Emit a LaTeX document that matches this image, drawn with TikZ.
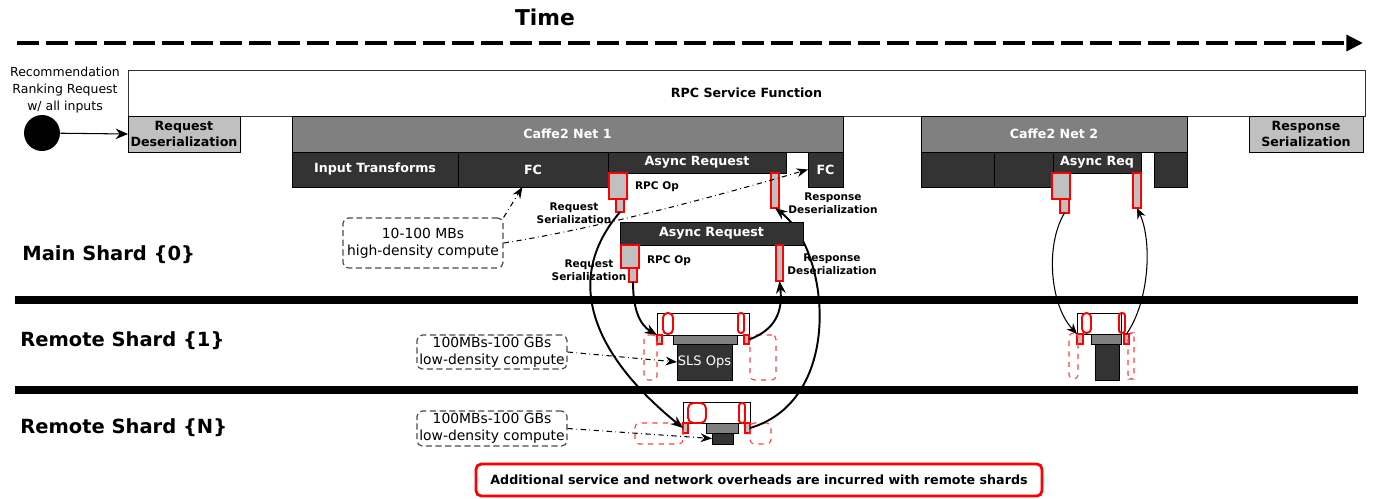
\documentclass[tikz,border=0pt]{standalone}
\usepackage{fontspec}
\setmainfont{DejaVu Sans}
\usetikzlibrary{arrows.meta,fit}

\definecolor{lgray}{HTML}{C0C0C0}
\definecolor{mgray}{HTML}{808080}
\definecolor{dgray}{HTML}{333333}

\tikzset{
  blk/.style={draw=black, line width=0.5pt, inner sep=0pt, outer sep=0pt},
  gbox/.style={blk, fill=lgray},
  nbox/.style={blk, fill=mgray},
  dbox/.style={blk, fill=dgray},
  btext/.style={font=\fontsize{7.2}{9.5}\selectfont\bfseries, align=center, inner sep=0pt},
  wtext/.style={btext, text=white},
  rpcop/.style={draw=red, fill=lgray, line width=0.7pt, inner sep=0pt, outer sep=0pt},
  ring/.style={draw=red, line width=1.1pt, rounded corners=1.5pt, inner sep=0pt},
  halo/.style={draw=red!75, dashed, line width=0.6pt, rounded corners=2.4pt, inner sep=0pt},
  memo/.style={draw=black!70, dash pattern=on 3.5pt off 2pt, line width=0.7pt, rounded corners=3pt, inner sep=0pt},
  mtext/.style={font=\fontsize{7.9}{9.6}\selectfont, align=center, inner sep=0pt},
  note/.style={font=\fontsize{6}{7.4}\selectfont\bfseries, align=center, inner sep=0pt},
  shard/.style={font=\fontsize{11.1}{13}\selectfont\bfseries, anchor=west, inner sep=0pt},
  hop/.style={line width=1.1pt, -{Stealth[length=7pt,width=5.5pt]}},
  hopthin/.style={line width=0.6pt, -{Stealth[length=6pt,width=5pt]}},
  hint/.style={dash dot, line width=0.6pt, -{Stealth[length=6.5pt,width=5pt]}},
}

\begin{document}
\begin{tikzpicture}[x=0.02cm, y=-0.02cm]
  \useasboundingbox (0,0) rectangle (1376,498);

  % time axis
  \node[font=\fontsize{12.4}{14}\selectfont\bfseries] (timelbl) at (545,17) {Time};
  \coordinate (tstart) at (17,43);
  \coordinate (tend) at (1363,43);
  \draw[line width=2.3pt, dash pattern=on 12.5pt off 4pt, -{Triangle[length=9.5pt,width=9pt]}] (tstart) -- (tend);

  % incoming request
  \node[align=center, font=\fontsize{7.1}{9.6}\selectfont] (reqtxt) at (65,90) {Recommendation\\Ranking Request\\w/ all inputs};
  \node[circle, fill=black, minimum size=0.72cm, inner sep=0pt] (src) at (42,133) {};
  \node[blk, fill=white, draw=black!80, fit={(128,70) (1365,116)}, label={[btext]center:RPC Service Function}] (rpcfn) {};
  \node[gbox, fit={(128,116) (240,152)}, label={[btext]center:Request\\Deserialization}] (reqdeser) {};
  \draw[line width=0.6pt, -{Stealth[length=7pt,width=6pt]}] (src) -- (reqdeser.west);

  % Caffe2 Net 1
  \node[nbox, fit={(292,116) (843,152)}, label={[wtext]center:Caffe2 Net 1}] (netone) {};
  \node[dbox, fit={(292,152) (458,187)}, label={[wtext]center:Input Transforms}] (intrans) {};
  \node[dbox, fit={(458,152) (608,187)}, label={[wtext]center:FC}] (fcone) {};
  \node[dbox, fit={(608,152) (786,173)}, label={[wtext]center:Async Request}] (asyncone) {};
  \node[dbox, fit={(808,152) (843,187)}, label={[wtext]center:FC}] (fctwo) {};
  \node[rpcop, fit={(609,173) (627,199)}] (opone) {};
  \node[rpcop, fit={(616,199) (624,212)}] (serone) {};
  \node[rpcop, fit={(771,173) (779,208)}] (desone) {};
  \node[note] (oplblone) at (657,187) {RPC Op};
  \node[note] (serlblone) at (574,213) {Request\\Serialization};
  \node[note] (deslblone) at (833,203) {Response\\Deserialization};

  % Caffe2 Net 2
  \node[nbox, fit={(921,116) (1187,152)}, label={[wtext]center:Caffe2 Net 2}] (nettwo) {};
  \node[dbox, fit={(921,152) (994,187)}] (opsa) {};
  \node[dbox, fit={(994,152) (1053,187)}] (opsb) {};
  \node[dbox, fit={(1053,152) (1141,173)}, label={[wtext]center:Async Req}] (asyncthree) {};
  \node[dbox, fit={(1154,152) (1187,187)}] (opsc) {};
  \node[rpcop, fit={(1052,173) (1070,199)}] (opthree) {};
  \node[rpcop, fit={(1060,199) (1069,213)}] (serthree) {};
  \node[rpcop, fit={(1133,173) (1141,208)}] (desthree) {};
  \node[gbox, fit={(1249,116) (1363,152)}, label={[btext]center:Response\\Serialization}] (respser) {};

  \node[memo, fit={(343,218) (503,268)}, label={[mtext]center:10-100 MBs\\high-density compute}] (hdmemo) {};
  \draw[hint] (hdmemo.north east) -- ([xshift=-6pt]fcone.south);
  \draw[hint] (hdmemo.east) .. controls (600,228) and (720,195) .. (fctwo.west);

  % shards
  \foreach \y in {300,390}
    \draw[line width=4pt] (15,\y) -- (1358,\y);
  \node[shard] (mainlbl) at (22,255) {Main Shard \{0\}};
  \node[shard] (remlblone) at (20,341) {Remote Shard \{1\}};
  \node[shard] (remlbln) at (20,428) {Remote Shard \{N\}};

  % remote shard 1
  \node[blk, fill=white, fit={(657,313) (749,335)}] (r1host) {};
  \node[ring, rounded corners=2.6pt, fit={(663,313) (673,334)}] (r1ringa) {};
  \node[ring, fit={(738,313) (744,333)}] (r1ringb) {};
  \node[nbox, fit={(673,335) (737,344)}] (r1bar) {};
  \node[dbox, fit={(677,344) (732,380)}, label={[text=white, font=\fontsize{7.4}{9}\selectfont]center:SLS Ops}] (r1ops) {};
  \node[rpcop, fit={(657,335) (662,344)}] (r1in) {};
  \node[rpcop, fit={(744,335) (749,344)}] (r1out) {};
  \node[halo, fit={(644,335) (657,380)}] (r1hala) {};
  \node[halo, fit={(750,335) (776,380)}] (r1halb) {};
  \node[memo, fit={(417,335) (567,369)}, label={[mtext]center:100MBs-100 GBs\\low-density compute}] (r1memo) {};
  \draw[hint] (r1memo.east) -- (r1ops.west);

  % remote shard N
  \node[blk, fill=white, fit={(683,402) (750,423)}] (rnhost) {};
  \node[ring, rounded corners=3pt, fit={(688,403) (706,423)}] (rnringa) {};
  \node[ring, fit={(739,403) (745,423)}] (rnringb) {};
  \node[nbox, fit={(706,423) (738,433)}] (rnbar) {};
  \node[dbox, fit={(712,433) (733,444)}] (rnops) {};
  \node[rpcop, fit={(683,423) (688,433)}] (rnin) {};
  \node[rpcop, fit={(745,423) (750,433)}] (rnout) {};
  \node[halo, fit={(635,423) (683,444)}] (rnhala) {};
  \node[halo, fit={(750,423) (771,444)}] (rnhalb) {};
  \node[memo, fit={(417,411) (567,446)}, label={[mtext]center:100MBs-100 GBs\\low-density compute}] (rnmemo) {};
  \draw[hint] (rnmemo.east) -- (rnops.west);

  % remote shard 1, net 2 side
  \node[blk, fill=white, fit={(1077,313) (1121,334)}] (r2host) {};
  \node[ring, rounded corners=2.4pt, fit={(1082,313) (1091,333)}] (r2ringa) {};
  \node[ring, fit={(1119,313) (1125,333)}] (r2ringb) {};
  \node[nbox, fit={(1091,334) (1121,344)}] (r2bar) {};
  \node[dbox, fit={(1095,344) (1119,380)}] (r2ops) {};
  \node[rpcop, fit={(1077,334) (1083,344)}] (r2in) {};
  \node[rpcop, fit={(1124,334) (1129,344)}] (r2out) {};
  \node[halo, fit={(1069,333) (1078,379)}] (r2hala) {};
  \node[halo, fit={(1128,333) (1134,379)}] (r2halb) {};

  % remote calls
  \draw[hop] (serone.south) .. controls (545,300) and (630,385) .. (rnin.west);
  \draw[hop] (rnout.east) .. controls (845,400) and (830,250) .. (desone.south);
  \draw[hopthin] (serthree.south) .. controls (1045,245) and (1050,305) .. (r2in.north west);
  \draw[hopthin] (r2out.north) .. controls (1150,300) and (1152,240) .. (desthree.south);

  % second async request
  \node[dbox, fit={(620,222) (803,245)}, label={[wtext]center:Async Request}] (asynctwo) {};
  \node[rpcop, fit={(621,245) (639,268)}] (optwo) {};
  \node[rpcop, fit={(629,268) (637,282)}] (sertwo) {};
  \node[rpcop, fit={(776,245) (783,281)}] (destwo) {};
  \node[note] (oplbltwo) at (669,261) {RPC Op};
  \node[note] (serlbltwo) at (589,270) {Request\\Serialization};
  \node[note] (deslbltwo) at (832,264) {Response\\Deserialization};
  \draw[hop] (sertwo.south) .. controls (633,310) and (640,325) .. (r1in.north west);
  \draw[hop] (r1out.east) .. controls (775,330) and (783,312) .. (destwo.south);

  \node[draw=red, line width=1.6pt, rounded corners=3pt, inner sep=0pt, fit={(476,464) (1042,496)},
    label={[btext]center:Additional service and network overheads are incurred with remote shards}] (overhead) {};
\end{tikzpicture}
\end{document}
